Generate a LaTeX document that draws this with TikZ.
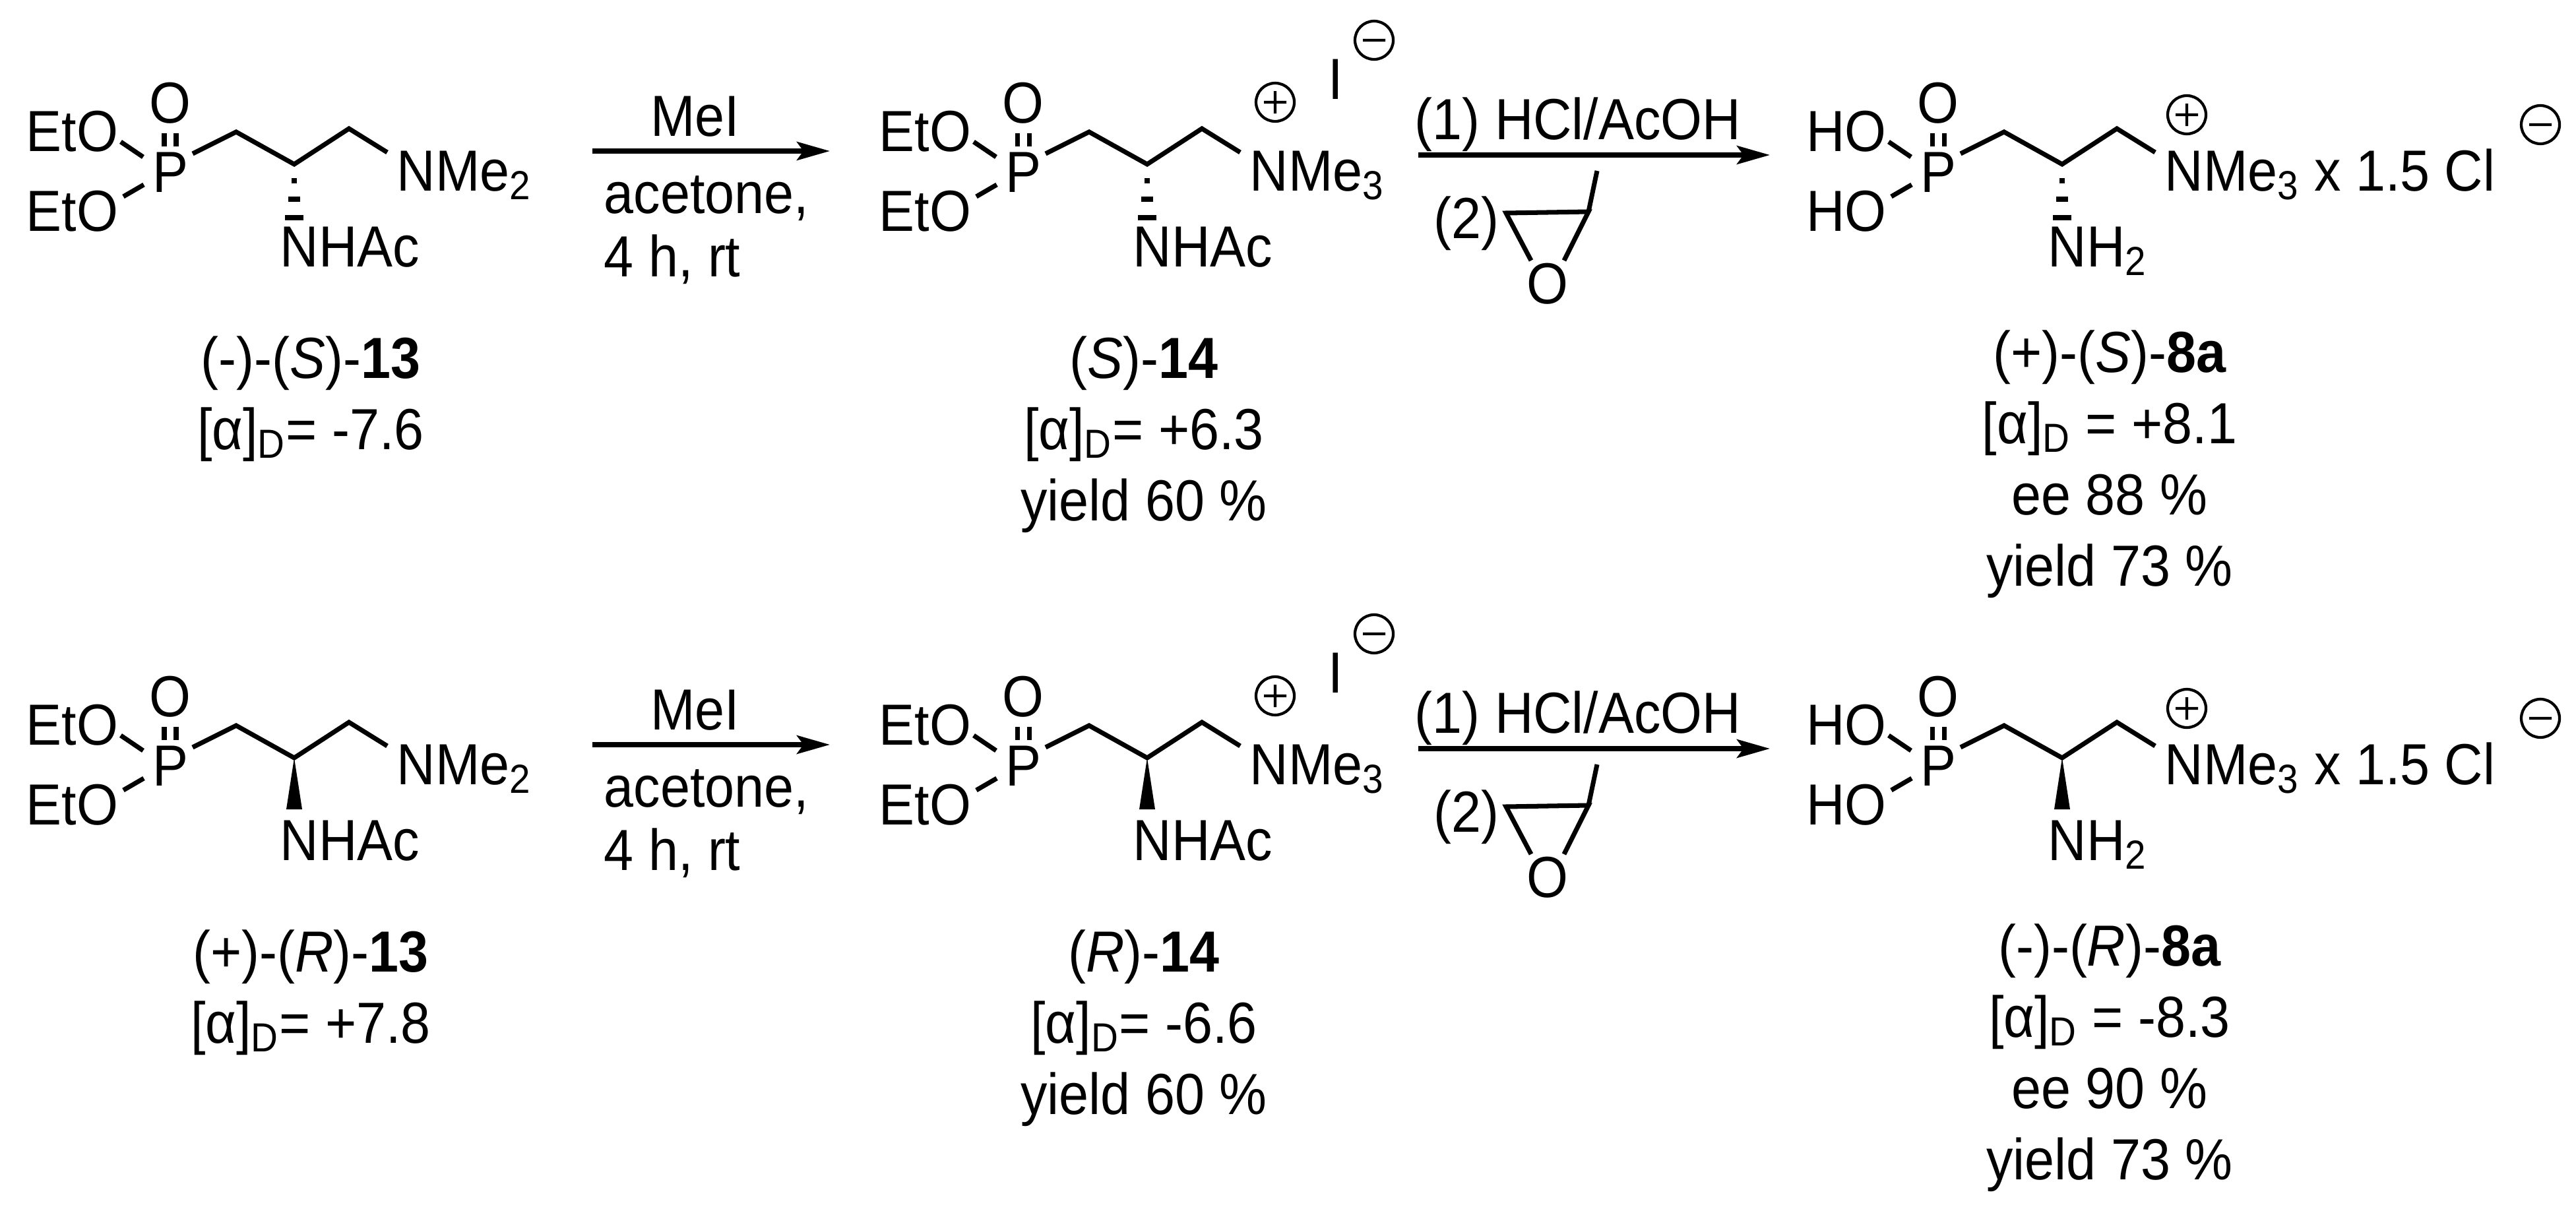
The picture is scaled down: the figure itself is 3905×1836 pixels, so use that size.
\documentclass[tikz,border=0pt]{standalone}
\usepackage{fontspec}
\setmainfont{Liberation Sans}[FakeStretch=0.92]
\usetikzlibrary{arrows.meta}
\tikzset{
  txt/.style={inner sep=0pt,font=\fontsize{25pt}{29pt}\selectfont},
  bond/.style={line width=2pt,line cap=butt},
  rxn/.style={line width=2pt,-{Stealth[length=0.5cm,width=0.28cm,inset=0.1cm]}},
  chg/.style={line width=1.2pt}
}
\newcommand\hashbond{%
  \draw[bond] (442,274)--(450,274) (437,302)--(455,302) (432,330)--(460,330);}
\newcommand\wedgebond{%
  \fill (446,249)--(434,327)--(458,327)--cycle;}
\newcommand\plusc[2]{%
  \draw[chg] (#1,#2) circle (29) (#1-17,#2)--(#1+17,#2) (#1,#2-17)--(#1,#2+17);}
\newcommand\minusc[2]{%
  \draw[chg] (#1,#2) circle (29) (#1-17,#2)--(#1+17,#2);}
% #1 prefix, #2 x shift, #3 y shift, #4 O-group, #5 amine, #6 N group, #7 stereo
\newcommand\mol[7]{%
\begin{scope}[shift={(#2,#3)}]
  \node[txt,anchor=base east] (#1or1) at (180,229) {#4};
  \node[txt,anchor=base east] (#1or2) at (180,350) {#4};
  \node[txt,anchor=base] (#1o) at (258,186) {O};
  \node[txt,anchor=base] (#1p) at (258,291) {P};
  \node[txt,anchor=base west] (#1am) at (424,404) {#5};
  \node[txt,anchor=base west] (#1n) at (601,289) {#6};
  \coordinate (#1c1) at (358,200);
  \coordinate (#1c2) at (446,249);
  \coordinate (#1c3) at (529,195);
  \draw[bond] (249,202)--(249,222) (267,202)--(267,222);
  \draw[bond] (183,215)--(217,238);
  \draw[bond] (187,298)--(218,280);
  \draw[bond,line join=miter] (292,233)--(#1c1)--(#1c2)--(#1c3)--(587,231);
  #7
\end{scope}}
\begin{document}
\begin{tikzpicture}[x=0.01cm,y=-0.01cm]
\useasboundingbox (0,0) rectangle (3905,1836);
\foreach \r/\dy/\st in {a/0/\hashbond,b/900/\wedgebond}{
  \mol{\r A}{0}{\dy}{EtO}{NHAc}{NMe\textsubscript{2}}{\st}
  \mol{\r B}{1293}{\dy}{EtO}{NHAc}{NMe\textsubscript{3}}{\st}
  \mol{\r C}{2680}{\dy}{HO}{NH\textsubscript{2}}{NMe\textsubscript{3} x 1.5 Cl}{\st}
  \begin{scope}[shift={(0,\dy)}]
    \plusc{1933}{155}
    \node[txt,anchor=base] (\r I) at (2025,150) {I};
    \minusc{2083}{61}
    \plusc{3315}{174}
    \minusc{3851}{189}
    % arrow 1
    \coordinate (\r s1) at (898,229); \coordinate (\r e1) at (1258,229);
    \draw[rxn] (\r s1)--(\r e1);
    \node[txt,anchor=base] (\r mei) at (1054,206) {MeI};
    \node[txt,anchor=base west] (\r ac) at (915,323) {acetone,};
    \node[txt,anchor=base west] (\r tm) at (915,419) {4 h, rt};
    % arrow 2
    \coordinate (\r s2) at (2150,235); \coordinate (\r e2) at (2683,235);
    \draw[rxn] (\r s2)--(\r e2);
    \node[txt,anchor=base] (\r hcl) at (2392,211) {(1) HCl/AcOH};
    \node[txt,anchor=base] (\r two) at (2223,361) {(2)};
    \node[txt,anchor=base] (\r eo) at (2346,460) {O};
    \draw[bond,line join=miter] (2321,395)--(2283,323)--(2408,321)--(2371,395);
    \draw[bond] (2408,321)--(2421,259);
  \end{scope}
}
% labels row 1
\node[txt,anchor=base] (l1a) at (471,573) {(-)-(\textit{S})-\textbf{13}};
\node[txt,anchor=base] (l1b) at (471,681) {[α]\textsubscript{D}= -7.6};
\node[txt,anchor=base] (l2a) at (1734,573) {(\textit{S})-\textbf{14}};
\node[txt,anchor=base] (l2b) at (1734,681) {[α]\textsubscript{D}= +6.3};
\node[txt,anchor=base] (l2c) at (1734,789) {yield 60 \%};
\node[txt,anchor=base] (l3a) at (3198,564) {(+)-(\textit{S})-\textbf{8a}};
\node[txt,anchor=base] (l3b) at (3198,672) {[α]\textsubscript{D} = +8.1};
\node[txt,anchor=base] (l3c) at (3198,780) {ee 88 \%};
\node[txt,anchor=base] (l3d) at (3198,888) {yield 73 \%};
% labels row 2
\node[txt,anchor=base] (m1a) at (471,1473) {(+)-(\textit{R})-\textbf{13}};
\node[txt,anchor=base] (m1b) at (471,1581) {[α]\textsubscript{D}= +7.8};
\node[txt,anchor=base] (m2a) at (1734,1473) {(\textit{R})-\textbf{14}};
\node[txt,anchor=base] (m2b) at (1734,1581) {[α]\textsubscript{D}= -6.6};
\node[txt,anchor=base] (m2c) at (1734,1689) {yield 60 \%};
\node[txt,anchor=base] (m3a) at (3198,1464) {(-)-(\textit{R})-\textbf{8a}};
\node[txt,anchor=base] (m3b) at (3198,1572) {[α]\textsubscript{D} = -8.3};
\node[txt,anchor=base] (m3c) at (3198,1680) {ee 90 \%};
\node[txt,anchor=base] (m3d) at (3198,1788) {yield 73 \%};
\end{tikzpicture}
\end{document}
